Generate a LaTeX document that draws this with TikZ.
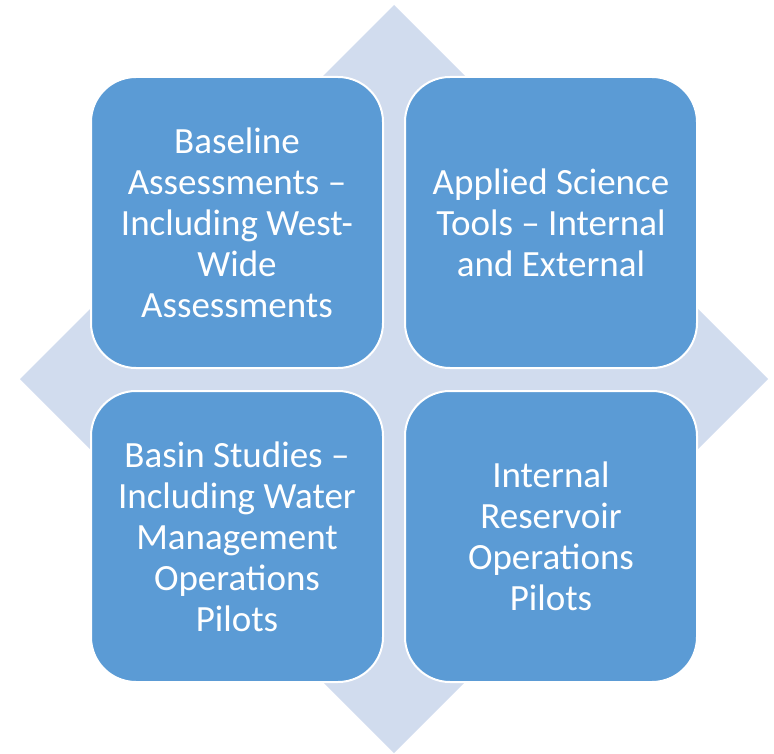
\documentclass[tikz,border=0pt]{standalone}
\usepackage{fontspec}
\setmainfont{Carlito}
\definecolor{boxblue}{HTML}{5B9BD5}
\definecolor{diamondblue}{HTML}{D1DCEE}
\begin{document}
\begin{tikzpicture}[x=1pt,y=-1pt,
  quad/.style={draw=white, line width=2pt, fill=boxblue, rounded corners=45pt,
    minimum width=292pt, minimum height=291pt, inner sep=0pt,
    text=white, align=center, font=\fontsize{37}{41}\selectfont}]
\useasboundingbox (0,0) rectangle (774,754);
\fill[diamondblue] (394,5) -- (768,379) -- (394,753) -- (20,379) -- cycle;
\node[quad] (tl) at (237,222.5) {Baseline\\Assessments –\\Including West-\\Wide\\Assessments};
\node[quad] (tr) at (551,222.5) {Applied Science\\Tools – Internal\\and External};
\node[quad] (bl) at (237,536.5) {Basin Studies –\\Including Water\\Management\\Operations\\Pilots};
\node[quad] (br) at (551,536.5) {Internal\\Reservoir\\Operations\\Pilots};
\end{tikzpicture}
\end{document}
